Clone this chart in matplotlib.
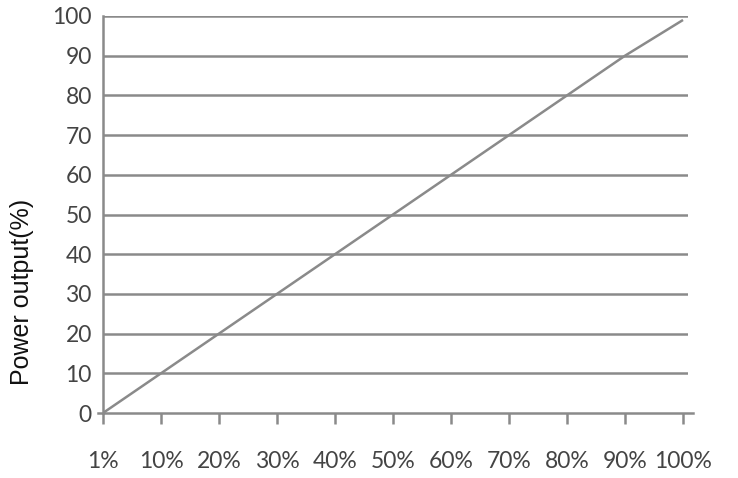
import numpy as np
import matplotlib
matplotlib.use("Agg")
import matplotlib.pyplot as plt

# data
x_labels = ["1%", "10%", "20%", "30%", "40%", "50%", "60%", "70%", "80%", "90%", "100%"]
power_output = [0, 10, 20, 30, 40, 50, 60, 70, 80, 90, 99]
y_ticks = [0, 10, 20, 30, 40, 50, 60, 70, 80, 90, 100]

grey = "#8a8a8a"
text_col = "#444444"

plt.rcParams["font.family"] = ["Lato", "DejaVu Sans"]

fig = plt.figure(figsize=(7.38, 4.78), dpi=100)
ax = fig.add_axes([103 / 738, 1 - 413 / 478, 585 / 738, 397 / 478])

xpos = np.arange(len(x_labels))
ax.plot(xpos, power_output, color=grey, lw=1.8, solid_capstyle="butt")

ax.set_xlim(0, 10.086)
ax.set_ylim(0, 100)

# horizontal grid
for y in y_ticks[1:]:
    ax.axhline(y, color=grey, lw=1.8, zorder=0)

ax.set_xticks(xpos)
ax.set_xticklabels(x_labels, fontsize=16.5, color=text_col)
ax.set_yticks(y_ticks)
ax.set_yticklabels([str(v) for v in y_ticks], fontsize=16.5, color=text_col)

ax.tick_params(axis="x", length=8, width=1.8, color=grey, pad=19)
ax.tick_params(axis="y", length=0, pad=8)

for s in ["top", "right"]:
    ax.spines[s].set_visible(False)
ax.spines["left"].set_color(grey)
ax.spines["left"].set_linewidth(1.8)
ax.spines["bottom"].set_color(grey)
ax.spines["bottom"].set_linewidth(1.8)
ax.spines["bottom"].set_bounds(-0.09, 10.17)

ax.set_ylabel("Power output(%)", fontsize=18, color="#111111", family="Liberation Sans")
ax.yaxis.set_label_coords(-0.118, 0.305)

fig.savefig("out.png", dpi=100)
